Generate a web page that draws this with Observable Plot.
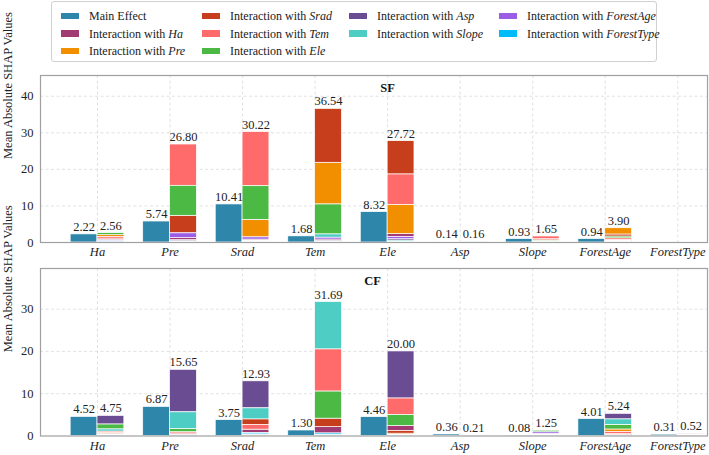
<!DOCTYPE html>
<html><head><meta charset="utf-8">
<script src="https://cdn.jsdelivr.net/npm/d3@7"></script>
<script src="https://cdn.jsdelivr.net/npm/@observablehq/plot@0.6"></script>
<style>
body{margin:0;background:#fff;font-family:"Liberation Serif","Times New Roman",serif;color:#222}
#wrap{position:relative;width:709px;height:455px;overflow:hidden;background:#fff}
#legendBox{position:absolute;left:51px;top:1px;width:606px;height:61px;border:1px solid #d0d0d0;border-radius:3px;box-sizing:border-box}
.lt{position:absolute;font-size:12px;line-height:14px;white-space:nowrap;color:#222}
.sw{position:absolute;width:18px;height:6.5px}
#top{position:absolute;left:0;top:64px}
#bot{position:absolute;left:0;top:262px}
svg{display:block}
</style></head><body>
<div id="wrap"><div id="legendBox"></div><div id="top"></div><div id="bot"></div></div>
<script>
// Features (x categories)
const features = ["Ha","Pre","Srad","Tem","Ele","Asp","Slope","ForestAge","ForestType"];
// Interaction partners (same order as legend)
const partners = ["Ha","Pre","Srad","Tem","Ele","Asp","Slope","ForestAge","ForestType"];
const seriesColors = ["#2E86AB","#A23B72","#F18F01","#C73E1D","#FF6B6B","#4CB944","#6A4C93","#4ECDC4","#9B5DE5","#00BBF9"];

// ---- SF panel ----
const sfMain = [2.22, 5.74, 10.41, 1.68, 8.32, 0.14, 0.93, 0.94, 0];
// interaction values of each feature with: Ha, Pre, Srad, Tem, Ele, Asp, Slope, ForestAge, ForestType
const sfIntHa         = [0, 0.5, 0.45, 0.45, 0.55, 0.12, 0.15, 0.25, 0.09];
const sfIntPre        = [0.6, 0, 4.8, 11.3, 8.2, 0.3, 0.2, 1.3, 0.1];
const sfIntSrad       = [0.3, 4.8, 0, 14.82, 9.2, 0.2, 0.2, 0.6, 0.1];
const sfIntTem        = [0.4, 11.4, 14.74, 0, 8.2, 0.3, 0.9, 0.5, 0.1];
const sfIntEle        = [0.8, 8.0, 9.12, 8.3, 0, 0.4, 0.3, 0.6, 0.2];
const sfIntAsp        = [0.01, 0.03, 0.02, 0.04, 0.05, 0, 0.01, 0, 0];
const sfIntSlope      = [0.1, 0.25, 0.3, 0.75, 0.15, 0.05, 0, 0.05, 0];
const sfIntForestAge  = [0.3, 1.75, 0.55, 0.45, 0.45, 0.15, 0.15, 0, 0.1];
const sfIntForestType = [0, 0, 0, 0, 0, 0, 0, 0, 0];
const sfTotals = [2.56, 26.80, 30.22, 36.54, 27.72, 0.16, 1.65, 3.90, 0];

// ---- CF panel ----
const cfMain = [4.52, 6.87, 3.75, 1.30, 4.46, 0.36, 0.08, 4.01, 0.31];
const cfIntHa         = [0, 0.25, 0.2, 0.35, 1.2, 2.0, 0.5, 0.15, 0.1];
const cfIntPre        = [0.15, 0, 0.25, 0.3, 0.75, 10.05, 3.95, 0.12, 0.08];
const cfIntSrad       = [0.8, 0.1, 1.34, 1.1, 0.1, 6.39, 2.6, 0.2, 0.3];
const cfIntTem        = [1.5, 0.1, 2.0, 10.0, 6.4, 0.1, 11.19, 0.1, 0.3];
const cfIntEle        = [1.2, 0.3, 0.6, 3.95, 2.6, 11.1, 0.1, 0.1, 0.05];
const cfIntAsp        = [0.02, 0.02, 0, 0.05, 0.04, 0.03, 0.05, 0, 0];
const cfIntSlope      = [0.2, 0.1, 0, 0.15, 0.4, 0.05, 0, 0.35, 0];
const cfIntForestAge  = [0.14, 0.6, 0.2, 0.5, 1.1, 1.32, 1.28, 0, 0.1];
const cfIntForestType = [0.2, 0.08, 0.06, 0.1, 0.08, 0, 0, 0, 0];
const cfTotals = [4.75, 15.65, 12.93, 31.69, 20.00, 0.21, 1.25, 5.24, 0.52];

const sfYTicks = [0, 10, 20, 30, 40];
const cfYTicks = [0, 10, 20, 30];

const seriesDomain = ["Main Effect", ...partners.map(p => "Interaction with " + p)];
const W = 0.37;

function buildRows(main, ints) {
  const rows = [];
  features.forEach((f, i) => {
    if (main[i] > 0) rows.push({i, bar: 0, series: "Main Effect", value: main[i]});
    ints[i].forEach((v, j) => { if (v > 0) rows.push({i, bar: 1, series: "Interaction with " + partners[j], value: v}); });
  });
  return rows;
}
function buildLabels(main, totals) {
  const out = [];
  features.forEach((f, i) => {
    if (main[i] > 0) out.push({i, bar: 0, total: main[i]});
    if (totals[i] > 0) out.push({i, bar: 1, total: totals[i]});
  });
  return out;
}

function panel(rows, labels, yMax, yTicks, title, titleDx, titleDy, height, mt) {
  return Plot.plot({
    width: 709, height, marginLeft: 40, marginRight: 2, marginTop: mt, marginBottom: height - mt - (height === 198 ? 167 : 167.5),
    style: {fontFamily: "Liberation Serif, Times New Roman, serif", fontSize: "12.5px", background: "white", color: "#222", overflow: "visible"},
    x: {domain: [-0.786, 8.41], axis: null},
    y: {domain: [0, yMax], axis: null},
    color: {domain: seriesDomain, range: seriesColors},
    marks: [
      Plot.gridX(d3.range(features.length), {stroke: "#d4d4d4", strokeOpacity: 1, strokeDasharray: "3,2.5", strokeWidth: 0.7}),
      Plot.gridY(yTicks.filter(t => t > 0), {stroke: "#d4d4d4", strokeOpacity: 1, strokeDasharray: "3,2.5", strokeWidth: 0.7}),
      Plot.rect(rows, Plot.stackY({
        x1: d => d.i + (d.bar ? 0 : -W),
        x2: d => d.i + (d.bar ? W : 0),
        y: "value", fill: "series", order: "value",
        stroke: "white", strokeWidth: 0.7
      })),
      Plot.text(labels, {x: d => d.i + (d.bar ? W / 2 : -W / 2), y: "total", text: d => d.total.toFixed(2), dy: -3.5, lineAnchor: "bottom", fontSize: 12.5, fill: "#222"}),
      Plot.axisX(d3.range(features.length), {tickFormat: i => features[i], tickSize: 0, tickPadding: 5, fontStyle: "italic", fontSize: 12.5, fill: "#222"}),
      Plot.axisY(yTicks, {tickSize: 0, tickPadding: 7, label: null, fontSize: 12.5, fill: "#222"}),
      Plot.frame({stroke: "#a0a0a0", strokeWidth: 1.2}),
      Plot.text([title], {text: d => d, frameAnchor: "top", dx: titleDx, dy: titleDy, lineAnchor: "middle", fontWeight: "bold", fontSize: 12.5, fill: "#111"}),
      Plot.text(["Mean Absolute SHAP Values"], {text: d => d, frameAnchor: "left", rotate: -90, dx: -33, fontSize: 12.5, fill: "#222"})
    ]
  });
}

const sfInts = [sfIntHa, sfIntPre, sfIntSrad, sfIntTem, sfIntEle, sfIntAsp, sfIntSlope, sfIntForestAge, sfIntForestType];
const cfInts = [cfIntHa, cfIntPre, cfIntSrad, cfIntTem, cfIntEle, cfIntAsp, cfIntSlope, cfIntForestAge, cfIntForestType];

document.getElementById("top").append(
  panel(buildRows(sfMain, sfInts), buildLabels(sfMain, sfTotals), 36.54 * 1.25, sfYTicks, "SF", 13.5, 12.5, 198, 11)
);
document.getElementById("bot").append(
  panel(buildRows(cfMain, cfInts), buildLabels(cfMain, cfTotals), 31.69 * 1.25, cfYTicks, "CF", -1.5, 12.5, 193, 6)
);

// Legend (matplotlib-like, 4 columns, column-major)
const legendCols = [[0, 1, 2], [3, 4, 5], [6, 7], [8, 9]];
const colSwX = [61, 202, 349, 499];
const colTxX = [89, 230, 377, 527];
const rowY = [16, 33.5, 51];
const wrap = document.getElementById("wrap");
legendCols.forEach((col, c) => {
  col.forEach((k, r) => {
    const sw = document.createElement("div");
    sw.className = "sw";
    sw.style.left = colSwX[c] + "px";
    sw.style.top = (rowY[r] - 3.25) + "px";
    sw.style.background = seriesColors[k];
    wrap.append(sw);
    const t = document.createElement("div");
    t.className = "lt";
    t.style.left = colTxX[c] + "px";
    t.style.top = (rowY[r] - 7) + "px";
    if (k === 0) t.textContent = "Main Effect";
    else {
      t.append("Interaction with ");
      const em = document.createElement("i");
      em.textContent = partners[k - 1];
      t.append(em);
    }
    wrap.append(t);
  });
});
</script>
</body></html>
